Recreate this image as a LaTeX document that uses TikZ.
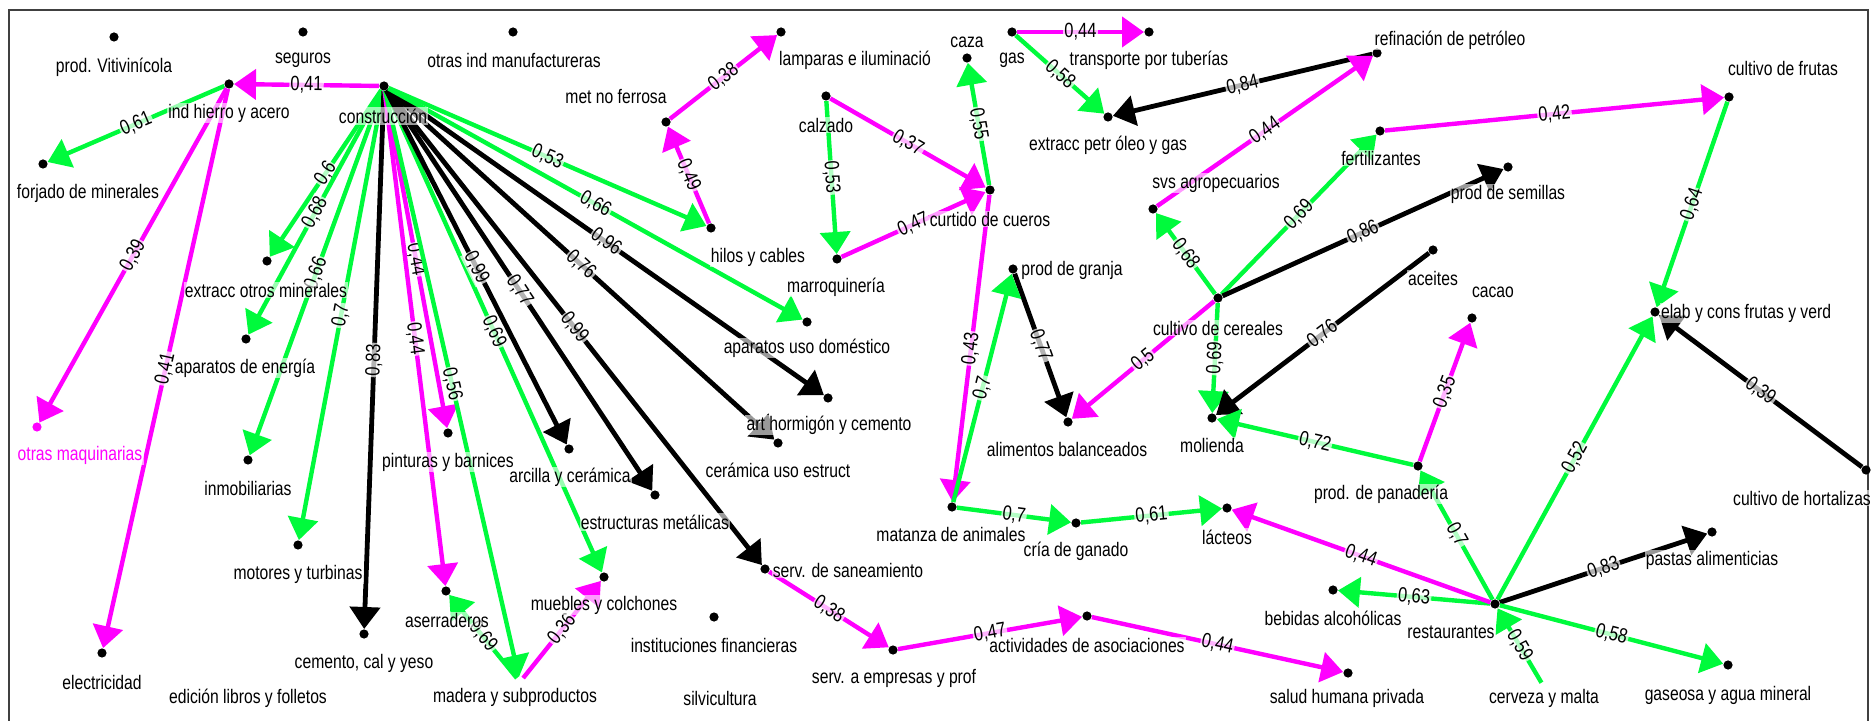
\documentclass[tikz,border=0pt]{standalone}
\usepackage{fontspec}
\setmainfont{Liberation Sans}[FakeStretch=0.8]
\usetikzlibrary{arrows.meta}
\definecolor{egreen}{RGB}{0,250,60}
\definecolor{emag}{RGB}{255,0,255}
\begin{document}
\begin{tikzpicture}[x=0.5pt,y=-0.5pt,
  dot/.style={circle,fill=black,inner sep=0pt,minimum size=4.6pt},
  hid/.style={circle,inner sep=0pt,minimum size=4.6pt},
  lab/.style={font=\fontsize{9.8}{11}\selectfont, inner sep=0.6pt, fill=white, fill opacity=0.6, text opacity=1},
  e/.style={line width=2.2pt, -{Triangle[length=11pt,width=15pt]}},
  eg/.style={e, draw=egreen},
  em/.style={e, draw=emag},
  ek/.style={e, draw=black, line width=2.4pt},
  w/.style={sloped, font=\fontsize{10.3}{11}\selectfont, fill=white, fill opacity=0.7, text opacity=1, inner sep=0.6pt}
]
\useasboundingbox (0,0) rectangle (1874,721);
\draw[line width=1pt, black!75] (9,721) -- (9,10) -- (1868,10) -- (1868,721);

% dots
\node[dot] (vit) at (114,37) {};
\node[dot] (seg) at (303,32) {};
\node[dot] (oim) at (513,32) {};
\node[dot] (hier) at (229,84) {};
\node[dot] (constr) at (384,86) {};
\node[dot] (forj) at (43,164) {};
\node[circle,fill=emag,inner sep=0pt,minimum size=4.6pt] (omaq) at (37,427) {};
\node[dot] (elec) at (102,653) {};
\node[hid] (edic) at (248,683) {};
\node[dot] (eom) at (267,261) {};
\node[dot] (aen) at (246,339) {};
\node[dot] (inmo) at (248,460) {};
\node[dot] (mot) at (298,545) {};
\node[dot] (cem) at (364,634) {};
\node[dot] (pint) at (448,433) {};
\node[dot] (aser) at (446,591) {};
\node[hid] (mad) at (520,682) {};
\node[dot] (mueb) at (604,577) {};
\node[dot] (arc) at (569,449) {};
\node[dot] (estr) at (655,495) {};
\node[dot] (cue) at (778,443) {};
\node[dot] (art) at (828,398) {};
\node[dot] (apd) at (807,322) {};
\node[dot] (hil) at (711,228) {};
\node[dot] (mnf) at (666,122) {};
\node[dot] (lam) at (781,32) {};
\node[dot] (calz) at (826,96) {};
\node[dot] (marr) at (837,259) {};
\node[dot] (curt) at (990,190) {};
\node[dot] (caza) at (967,58) {};
\node[dot] (gas) at (1012,32) {};
\node[dot] (tub) at (1149,32) {};
\node[dot] (epg) at (1108,117) {};
\node[dot] (ref) at (1377,53) {};
\node[dot] (svs) at (1153,209) {};
\node[dot] (fert) at (1380,131) {};
\node[dot] (fru) at (1729,97) {};
\node[dot] (sem) at (1508,167) {};
\node[dot] (cer) at (1218,298) {};
\node[dot] (granja) at (1013,269) {};
\node[dot] (alim) at (1068,422) {};
\node[dot] (mol) at (1212,418) {};
\node[dot] (acei) at (1433,250) {};
\node[dot] (cacao) at (1472,318) {};
\node[dot] (elab) at (1655,312) {};
\node[dot] (hort) at (1866,470) {};
\node[dot] (pan) at (1418,466) {};
\node[dot] (mat) at (952,507) {};
\node[dot] (cria) at (1076,523) {};
\node[dot] (lact) at (1227,508) {};
\node[dot] (beb) at (1333,590) {};
\node[dot] (rest) at (1495,604) {};
\node[dot] (past) at (1712,532) {};
\node[dot] (gase) at (1728,665) {};
\node[hid] (cerv) at (1544,687) {};
\node[dot] (sal) at (1348,673) {};
\node[dot] (act) at (1087,616) {};
\node[dot] (sea) at (893,650) {};
\node[dot] (san) at (765,569) {};
\node[dot] (inst) at (714,617) {};
\node[hid] (silv) at (720,688) {};

% edges
\draw[em] (constr) -- node[w]{0,41} (hier);
\draw[eg] (constr) -- node[w]{0,6} (eom);
\draw[eg] (constr) -- node[w]{0,68} (aen);
\draw[eg] (constr) -- node[w]{0,66} (inmo);
\draw[eg] (constr) -- node[w]{0,7} (mot);
\draw[ek] (constr) -- node[w]{0,83} (cem);
\draw[em] (constr) -- node[w]{0,44} (pint);
\draw[em] (constr) -- node[w]{0,44} (aser);
\draw[eg] (constr) -- node[w]{0,56} (mad);
\draw[eg] (constr) -- node[w]{0,69} (mueb);
\draw[ek] (constr) -- node[w]{0,99} (arc);
\draw[ek] (constr) -- node[w]{0,77} (estr);
\draw[ek] (constr) -- node[w]{0,99} (san);
\draw[ek] (constr) -- node[w]{0,76} (cue);
\draw[ek] (constr) -- node[w]{0,96} (art);
\draw[eg] (constr) -- node[w]{0,66} (apd);
\draw[eg] (constr) -- node[w]{0,53} (hil);
\draw[eg] (hier) -- node[w]{0,61} (forj);
\draw[em] (hier) -- node[w]{0,39} (omaq);
\draw[em] (hier) -- node[w]{0,41} (elec);
\draw[em] (hil) -- node[w]{0,49} (mnf);
\draw[em] (mnf) -- node[w]{0,38} (lam);
\draw[eg] (calz) -- node[w]{0,53} (marr);
\draw[em] (calz) -- node[w]{0,37} (curt);
\draw[em] (marr) -- node[w]{0,47} (curt);
\draw[eg] (curt) -- node[w]{0,55} (caza);
\draw[em] (curt) -- node[w]{0,43} (mat);
\draw[em] (gas) -- node[w]{0,44} (tub);
\draw[eg] (gas) -- node[w]{0,58} (epg);
\draw[ek] (ref) -- node[w]{0,84} (epg);
\draw[em] (svs) -- node[w]{0,44} (ref);
\draw[eg] (cer) -- node[w]{0,68} (svs);
\draw[eg] (cer) -- node[w]{0,69} (fert);
\draw[em] (fert) -- node[w]{0,42} (fru);
\draw[ek] (cer) -- node[w]{0,86} (sem);
\draw[em] (cer) -- node[w]{0,5} (alim);
\draw[eg] (cer) -- node[w]{0,69} (mol);
\draw[ek] (granja) -- node[w]{0,77} (alim);
\draw[eg] (mat) -- node[w]{0,7} (granja);
\draw[ek] (acei) -- node[w]{0,76} (mol);
\draw[eg] (pan) -- node[w]{0,72} (mol);
\draw[em] (pan) -- node[w]{0,35} (cacao);
\draw[eg] (rest) -- node[w]{0,7} (pan);
\draw[eg] (rest) -- node[w]{0,52} (elab);
\draw[eg] (fru) -- node[w]{0,64} (elab);
\draw[ek] (hort) -- node[w]{0,39} (elab);
\draw[ek] (rest) -- node[w]{0,83} (past);
\draw[eg] (rest) -- node[w]{0,58} (gase);
\draw[eg] (cerv) -- node[w]{0,59} (rest);
\draw[eg] (rest) -- node[w]{0,63} (beb);
\draw[em] (rest) -- node[w]{0,44} (lact);
\draw[eg] (mat) -- node[w]{0,7} (cria);
\draw[eg] (cria) -- node[w]{0,61} (lact);
\draw[em] (san) -- node[w]{0,38} (sea);
\draw[em] (sea) -- node[w]{0,47} (act);
\draw[em] (act) -- node[w]{0,44} (sal);
\draw[eg] (mad) -- node[w]{0,69} (aser);
\draw[em] (mad) -- node[w]{0,36} (mueb);

% labels
\node[lab] (vit-l) at (114,67) {prod. Vitivinícola};
\node[lab] (seg-l) at (303,60) {seguros};
\node[lab] (oim-l) at (514,60) {otras ind manufactureras};
\node[lab] (hier-l) at (229,113) {ind hierro y acero};
\node[lab] (constr-l) at (383,116) {construcción};
\node[lab] (forj-l) at (88,193) {forjado de minerales};
\node[lab,text=emag] (omaq-l) at (80,455) {otras maquinarias};
\node[lab] (elec-l) at (102,682) {electricidad};
\node[lab] (edic-l) at (248,698) {edición libros y folletos};
\node[lab] (eom-l) at (266,290) {extracc otros minerales};
\node[lab] (aen-l) at (245,368) {aparatos de energía};
\node[lab] (inmo-l) at (248,488) {inmobiliarias};
\node[lab] (mot-l) at (298,574) {motores y turbinas};
\node[lab] (cem-l) at (364,663) {cemento, cal y yeso};
\node[lab] (pint-l) at (448,462) {pinturas y barnices};
\node[lab] (aser-l) at (447,620) {aserraderos};
\node[lab] (mad-l) at (515,697) {madera y subproductos};
\node[lab] (mueb-l) at (604,605) {muebles y colchones};
\node[lab] (arc-l) at (570,477) {arcilla y cerámica};
\node[lab] (estr-l) at (655,522) {estructuras metálicas};
\node[lab] (cue-l) at (778,470) {cerámica uso estruct};
\node[lab] (art-l) at (829,425) {art hormigón y cemento};
\node[lab] (apd-l) at (807,348) {aparatos uso doméstico};
\node[lab] (hil-l) at (758,257) {hilos y cables};
\node[lab] (marr-l) at (836,287) {marroquinería};
\node[lab] (mnf-l) at (616,97) {met no ferrosa};
\node[lab] (lam-l) at (855,60) {lamparas e iluminació};
\node[lab] (calz-l) at (826,125) {calzado};
\node[lab] (curt-l) at (990,219) {curtido de cueros};
\node[lab] (caza-l) at (967,42) {caza};
\node[lab] (gas-l) at (1012,60) {gas};
\node[lab] (tub-l) at (1149,60) {transporte por tuberías};
\node[lab] (epg-l) at (1108,145) {extracc petr óleo y gas};
\node[lab] (ref-l) at (1450,40) {refinación de petróleo};
\node[lab] (svs-l) at (1216,183) {svs agropecuarios};
\node[lab] (fert-l) at (1381,158) {fertilizantes};
\node[lab] (fru-l) at (1783,69) {cultivo de frutas};
\node[lab] (sem-l) at (1508,194) {prod de semillas};
\node[lab] (cer-l) at (1218,328) {cultivo de cereales};
\node[lab] (granja-l) at (1072,270) {prod de granja};
\node[lab] (alim-l) at (1067,449) {alimentos balanceados};
\node[lab] (mol-l) at (1212,445) {molienda};
\node[lab] (acei-l) at (1433,278) {aceites};
\node[lab] (cacao-l) at (1493,292) {cacao};
\node[lab] (elab-l) at (1746,313) {elab y cons frutas y verd};
\node[lab] (hort-l) at (1802,498) {cultivo de hortalizas};
\node[lab] (pan-l) at (1381,494) {prod. de panadería};
\node[lab] (mat-l) at (951,534) {matanza de animales};
\node[lab] (cria-l) at (1076,551) {cría de ganado};
\node[lab] (lact-l) at (1227,537) {lácteos};
\node[lab] (beb-l) at (1333,618) {bebidas alcohólicas};
\node[lab] (rest-l) at (1451,632) {restaurantes};
\node[lab] (past-l) at (1712,560) {pastas alimenticias};
\node[lab] (gase-l) at (1728,695) {gaseosa y agua mineral};
\node[lab] (cerv-l) at (1544,698) {cerveza y malta};
\node[lab] (sal-l) at (1347,698) {salud humana privada};
\node[lab] (act-l) at (1087,645) {actividades de asociaciones};
\node[lab] (sea-l) at (894,678) {serv. a empresas y prof};
\node[lab] (san-l) at (848,570) {serv. de saneamiento};
\node[lab] (inst-l) at (714,645) {instituciones financieras};
\node[lab] (silv-l) at (720,698) {silvicultura};
\end{tikzpicture}
\end{document}
